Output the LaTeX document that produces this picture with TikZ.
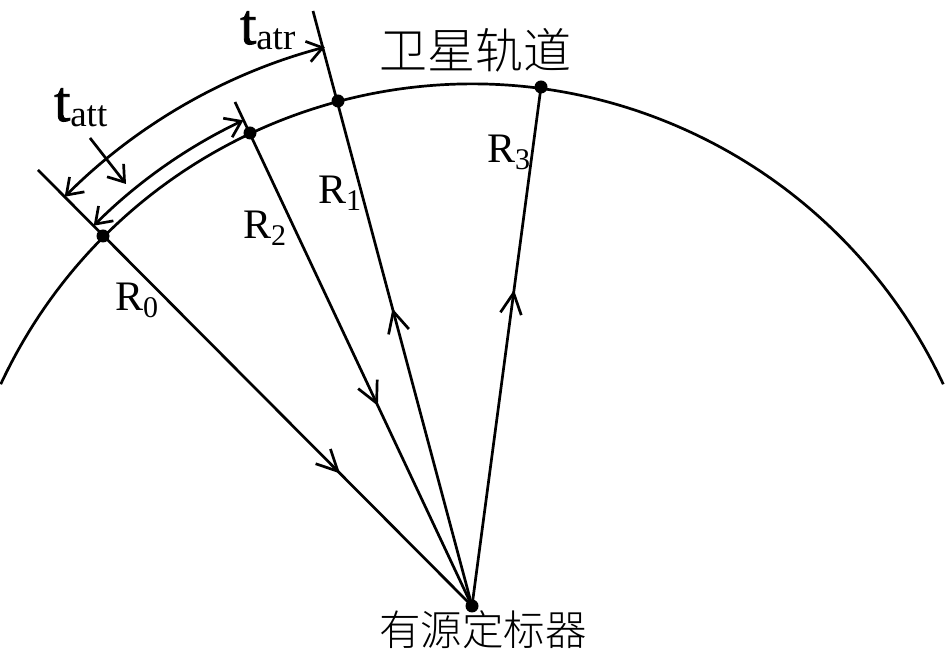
\documentclass[tikz,border=0pt]{standalone}
\usepackage{fontspec}
\setmainfont{Liberation Serif}
\newfontfamily\fatt[FakeBold=1.6]{Liberation Serif}
\newfontfamily\cjk{Noto Sans CJK SC Light}
\usetikzlibrary{arrows.meta,decorations.markings}
\tikzset{
  ln/.style={line width=2.7pt,black},
  tipdim/.tip={Straight Barb[length=15pt,width=21pt,line width=2.7pt]},
  tipmid/.tip={Straight Barb[length=21pt,width=21pt,line width=2.7pt]},
  dimboth/.style={ln,{tipdim}-{tipdim}},
  dimone/.style={ln,-{tipdim}},
  dot/.style={circle,fill=black,inner sep=0pt,minimum size=13pt},
  midarrow/.style={postaction={decorate},decoration={markings,mark=at position #1 with {\arrow{tipmid}}}},
  lab/.style={inner sep=0pt,anchor=base west,font=\fontsize{42}{42}\selectfont},
  zh/.style={inner sep=0pt,font=\cjk}
}
\newcommand{\Rlab}[1]{R\raisebox{-7pt}{\fontsize{30}{30}\selectfont #1}}
\newcommand{\Tlab}[1]{{\fontsize{58}{58}\selectfont\fatt t}\raisebox{-6pt}{\fontsize{37}{37}\selectfont #1}}
\begin{document}
\begin{tikzpicture}[x=1pt,y=1pt]
\useasboundingbox (0,0) rectangle (945,656);
\clip (0,0) rectangle (945,656);
\coordinate (C) at (472,52);
\draw[ln] (C) ++(155:520) arc (155:25:520);
\node[dot] (S) at (472,50) {};
\node[dot] (P0) at (103,420) {};
\node[dot] (P2) at (250,523) {};
\node[dot] (P1) at (338,555) {};
\node[dot] (P3) at (541,569) {};
\coordinate (E0) at (38,486);
\coordinate (E2) at (235,554);
\coordinate (E1) at (313,645);
\draw[ln,midarrow=0.696] (E0) -- (S.center);
\draw[ln,midarrow=0.603] (E2) -- (S.center);
\draw[ln,midarrow=0.50] (S.center) -- (E1);
\draw[ln,midarrow=0.609] (S.center) -- (P3.center);
\draw[dimboth] (C) ++(135:576) arc (135:104.8:576);
\draw[dimboth] (C) ++(135:535) arc (135:115.3:535);
\coordinate (A0) at (90,518);
\coordinate (A1) at (126,472);
\draw[dimone] (A0) -- (A1);
\node[lab] (T1) at (240,612) {\Tlab{atr}};
\node[lab] (T2) at (54,535) {\Tlab{att}};
\node[lab] (R0) at (115,345) {\Rlab{0}};
\node[lab] (R2) at (243,417) {\Rlab{2}};
\node[lab] (R1) at (318,452) {\Rlab{1}};
\node[lab] (R3) at (487,493) {\Rlab{3}};
\node[zh,font=\cjk\fontsize{48}{48}\selectfont] (Z1) at (475,606) {卫星轨道};
\node[zh,font=\cjk\fontsize{41.5}{42}\selectfont] (Z2) at (483,26) {有源定标器};
\end{tikzpicture}
\end{document}
